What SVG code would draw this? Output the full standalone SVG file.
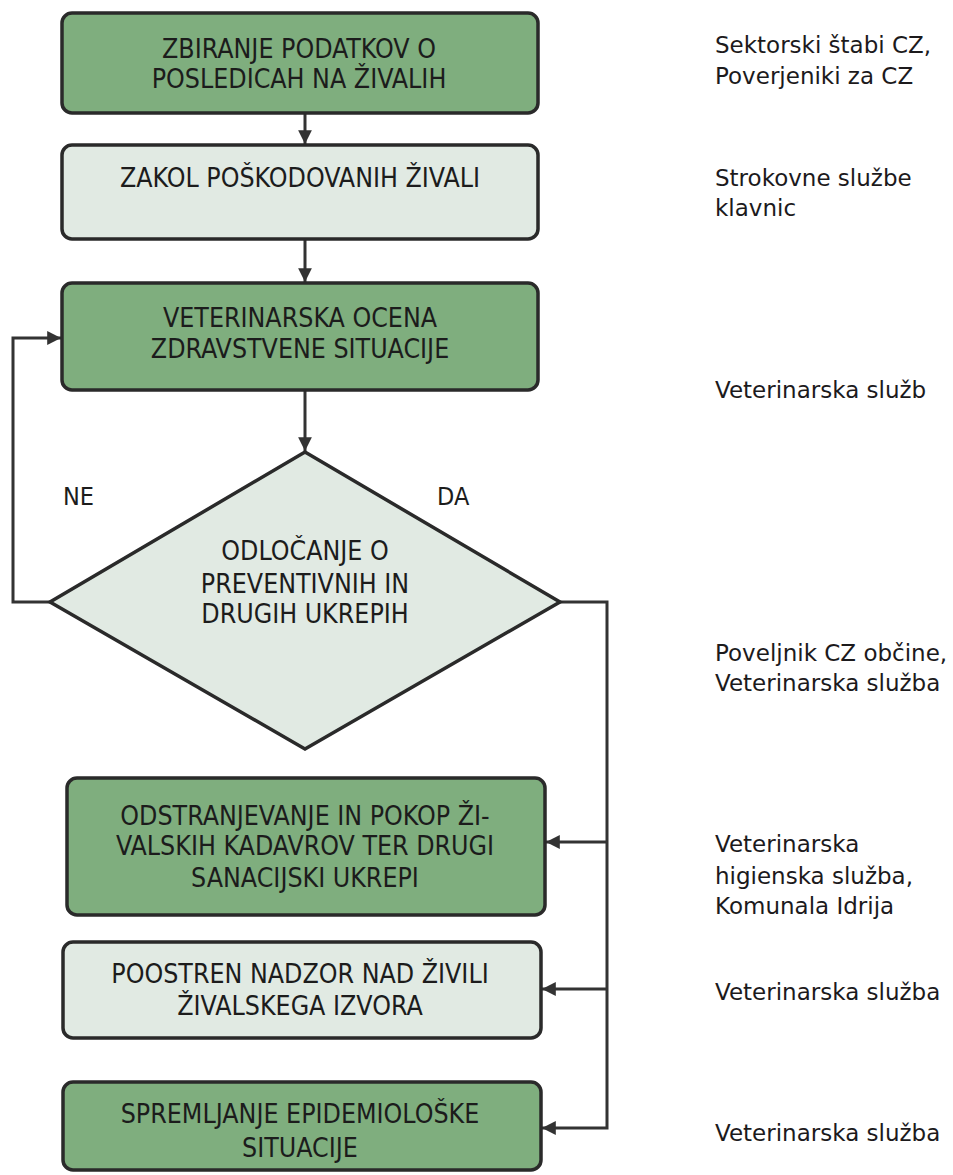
<svg xmlns="http://www.w3.org/2000/svg" width="953" height="1175" viewBox="0 0 953 1175">
<style>
.g{fill:#7fae7e;stroke:#2a2a2a;stroke-width:3.5}
.l{fill:#e1eae3;stroke:#2a2a2a;stroke-width:3.5}
.t{font-family:"DejaVu Sans Condensed","DejaVu Sans",sans-serif;font-size:26.5px;fill:#1c1c1c;text-anchor:middle}
.y{font-family:"DejaVu Sans Condensed","DejaVu Sans",sans-serif;font-size:25px;fill:#1c1c1c}
.r{font-family:"DejaVu Sans","Noto Sans",sans-serif;font-size:23px;fill:#1c1a1c}
.c{fill:none;stroke:#333;stroke-width:3}
</style>
<defs>
<marker id="a" viewBox="0 0 10 10" refX="10" refY="5" markerWidth="5" markerHeight="4.6" orient="auto" markerUnits="strokeWidth">
<path d="M0,0 L10,5 L0,10 z" fill="#333"/>
</marker>
</defs>
<rect width="953" height="1175" fill="#fff"/>
<g id="connectors">
<line class="c" x1="305" y1="114" x2="305" y2="144" marker-end="url(#a)"/>
<line class="c" x1="305" y1="240" x2="305" y2="282" marker-end="url(#a)"/>
<line class="c" x1="305" y1="390" x2="305" y2="451" marker-end="url(#a)"/>
<polyline class="c" points="50,602 13,602 13,338 61,338" marker-end="url(#a)"/>
<polyline class="c" points="560,602 607,602 607,1128 542,1128" marker-end="url(#a)"/>
<line class="c" x1="607" y1="842" x2="546" y2="842" marker-end="url(#a)"/>
<line class="c" x1="607" y1="989" x2="542" y2="989" marker-end="url(#a)"/>
<text class="y" x="63" y="505">NE</text>
<text class="y" x="437" y="505">DA</text>
</g>
<g id="n1">
<rect class="g" x="62" y="13" width="476" height="100" rx="10"/>
<text class="t" x="299" y="58">ZBIRANJE PODATKOV O</text>
<text class="t" x="299" y="88">POSLEDICAH NA ŽIVALIH</text>
</g>
<g id="n2">
<rect class="l" x="62" y="145" width="476" height="94" rx="10"/>
<text class="t" x="300" y="187">ZAKOL POŠKODOVANIH ŽIVALI</text>
</g>
<g id="n3">
<rect class="g" x="62" y="283" width="476" height="107" rx="10"/>
<text class="t" x="300" y="327">VETERINARSKA OCENA</text>
<text class="t" x="300" y="358">ZDRAVSTVENE SITUACIJE</text>
</g>
<g id="n4">
<polygon class="l" points="305,452 560,602 305,749 50,602"/>
<text class="t" x="305" y="560">ODLOČANJE O</text>
<text class="t" x="305" y="593">PREVENTIVNIH IN</text>
<text class="t" x="305" y="623">DRUGIH UKREPIH</text>
</g>
<g id="n5">
<rect class="g" x="67" y="778" width="478" height="137" rx="10"/>
<text class="t" x="305" y="825">ODSTRANJEVANJE IN POKOP ŽI-</text>
<text class="t" x="305" y="855">VALSKIH KADAVROV TER DRUGI</text>
<text class="t" x="305" y="887">SANACIJSKI UKREPI</text>
</g>
<g id="n6">
<rect class="l" x="63" y="942" width="478" height="96" rx="10"/>
<text class="t" x="300" y="983">POOSTREN NADZOR NAD ŽIVILI</text>
<text class="t" x="300" y="1015">ŽIVALSKEGA IZVORA</text>
</g>
<g id="n7">
<rect class="g" x="63" y="1082" width="478" height="88" rx="10"/>
<text class="t" x="300" y="1123">SPREMLJANJE EPIDEMIOLOŠKE</text>
<text class="t" x="300" y="1157">SITUACIJE</text>
</g>
<g id="labels">
<text class="r" x="715" y="53">Sektorski štabi CZ,</text>
<text class="r" x="715" y="84">Poverjeniki za CZ</text>
<text class="r" x="715" y="186">Strokovne službe</text>
<text class="r" x="715" y="216">klavnic</text>
<text class="r" x="715" y="398">Veterinarska služb</text>
<text class="r" x="715" y="661">Poveljnik CZ občine,</text>
<text class="r" x="715" y="691">Veterinarska služba</text>
<text class="r" x="715" y="852">Veterinarska</text>
<text class="r" x="715" y="884">higienska služba,</text>
<text class="r" x="715" y="914">Komunala Idrija</text>
<text class="r" x="715" y="1000">Veterinarska služba</text>
<text class="r" x="715" y="1141">Veterinarska služba</text>
</g>
</svg>
